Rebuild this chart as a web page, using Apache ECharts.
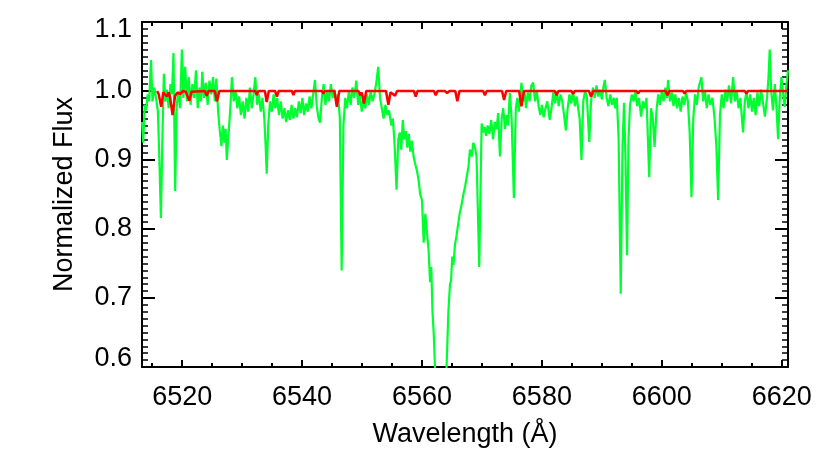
<!DOCTYPE html>
<html>
<head>
<meta charset="utf-8">
<script src="https://cdn.jsdelivr.net/npm/echarts@6/dist/echarts.min.js"></script>
<style>
html,body{margin:0;padding:0;background:#fff;}
#chart{width:830px;height:460px;}
</style>
</head>
<body>
<div id="chart"></div>
<script>
// ---- data ----
var xMajorTicks = [6520, 6540, 6560, 6580, 6600, 6620];
var xMinorTicks = [6515, 6525, 6530, 6535, 6545, 6550, 6555, 6565, 6570, 6575, 6585, 6590, 6595, 6605, 6610, 6615];
var yTickLabels = [0.6, 0.7, 0.8, 0.9, 1.0, 1.1];

// observed spectrum [wavelength, normalized flux]
var observedSpectrum = [
[6513.30,0.955],[6513.50,0.925],[6513.75,0.980],[6514.00,0.972],[6514.25,0.995],[6514.50,0.985],
[6514.80,1.045],[6515.05,0.985],[6515.35,1.005],[6515.65,0.990],[6515.95,0.970],[6516.20,0.900],
[6516.45,0.816],[6516.70,0.930],[6516.95,1.025],[6517.20,0.985],[6517.45,1.002],[6517.75,0.975],
[6518.05,1.010],[6518.30,0.995],[6518.55,1.055],[6518.83,0.855],[6519.10,0.980],[6519.35,1.000],
[6519.65,0.975],[6519.95,1.060],[6520.20,0.990],[6520.50,1.035],[6520.80,0.985],[6521.10,1.020],
[6521.40,0.980],[6521.70,1.010],[6522.00,0.990],[6522.30,1.030],[6522.60,0.975],[6522.90,1.005],
[6523.15,0.985],[6523.35,1.028],[6523.65,0.990],[6523.95,1.012],[6524.25,0.980],[6524.55,1.015],
[6524.85,0.995],[6525.15,1.020],[6525.45,0.985],[6525.70,1.018],[6526.00,0.970],[6526.25,0.945],
[6526.55,0.920],[6526.80,0.950],[6527.05,0.925],[6527.25,0.945],[6527.45,0.900],[6527.75,0.940],
[6528.00,0.970],[6528.30,1.020],[6528.60,0.985],[6528.90,1.000],[6529.20,0.975],[6529.50,0.992],
[6529.80,0.965],[6530.10,0.985],[6530.40,0.960],[6530.70,0.990],[6531.00,0.970],[6531.30,1.005],
[6531.60,0.975],[6531.90,0.995],[6532.20,1.020],[6532.50,0.980],[6532.80,0.995],[6533.10,0.970],
[6533.40,0.990],[6533.70,0.960],[6533.90,0.925],[6534.10,0.880],[6534.35,0.950],[6534.65,0.985],
[6534.95,0.970],[6535.25,0.995],[6535.55,0.975],[6535.85,0.990],[6536.15,0.965],[6536.45,0.985],
[6536.75,0.960],[6537.05,0.975],[6537.35,0.955],[6537.65,0.972],[6537.95,0.958],[6538.25,0.980],
[6538.55,0.960],[6538.85,0.975],[6539.15,0.962],[6539.45,0.985],[6539.75,0.968],[6540.05,0.990],
[6540.35,0.965],[6540.65,0.982],[6540.95,0.970],[6541.25,0.992],[6541.55,0.975],[6541.85,0.995],
[6542.15,1.016],[6542.45,0.978],[6542.75,0.960],[6543.00,0.954],[6543.30,0.990],[6543.60,1.010],
[6543.90,0.980],[6544.20,1.000],[6544.50,0.985],[6544.80,1.010],[6545.10,0.990],[6545.40,1.002],
[6545.70,0.985],[6546.00,0.995],[6546.30,0.960],[6546.60,0.740],[6546.90,0.950],[6547.20,0.990],
[6547.50,0.975],[6547.80,1.000],[6548.10,0.980],[6548.40,1.005],[6548.70,0.990],[6549.05,1.015],
[6549.35,0.980],[6549.65,0.995],[6549.95,0.970],[6550.25,0.990],[6550.55,0.975],[6550.85,0.995],
[6551.15,0.980],[6551.45,1.000],[6551.75,0.985],[6552.05,0.995],[6552.35,1.010],[6552.70,1.035],
[6553.00,0.990],[6553.30,0.975],[6553.60,0.960],[6553.90,0.980],[6554.20,0.965],[6554.50,0.972],
[6554.90,0.950],[6555.15,0.960],[6555.45,0.920],[6555.75,0.857],[6556.05,0.930],[6556.30,0.940],
[6556.55,0.915],[6556.80,0.958],[6557.05,0.930],[6557.30,0.942],[6557.55,0.918],[6557.80,0.938],
[6558.05,0.912],[6558.30,0.928],[6558.60,0.905],[6558.85,0.895],[6559.15,0.885],[6559.45,0.870],
[6559.70,0.850],[6560.00,0.842],[6560.28,0.780],[6560.55,0.822],[6560.83,0.795],[6561.10,0.770],
[6561.35,0.723],[6561.55,0.745],[6561.75,0.680],[6561.95,0.650],[6562.17,0.600],[6562.50,0.520],
[6562.90,0.470],[6563.30,0.460],[6563.70,0.500],[6564.10,0.600],[6564.40,0.680],[6564.67,0.720],
[6564.85,0.725],[6565.05,0.760],[6565.25,0.748],[6565.50,0.777],[6565.75,0.790],[6566.00,0.805],
[6566.30,0.823],[6566.60,0.835],[6566.90,0.850],[6567.20,0.862],[6567.45,0.875],[6567.75,0.890],
[6568.00,0.915],[6568.30,0.905],[6568.55,0.925],[6568.85,0.918],[6569.10,0.905],[6569.55,0.745],
[6569.95,0.953],[6570.20,0.940],[6570.45,0.948],[6570.70,0.935],[6570.95,0.950],[6571.25,0.938],
[6571.55,0.958],[6571.85,0.930],[6572.15,0.955],[6572.45,0.945],[6572.70,0.968],[6573.00,0.905],
[6573.30,0.960],[6573.55,0.975],[6573.85,0.945],[6574.10,0.965],[6574.35,0.950],[6574.65,0.997],
[6574.95,0.960],[6575.33,0.845],[6575.65,0.975],[6575.90,0.990],[6576.15,0.970],[6576.40,0.995],
[6576.60,1.012],[6576.85,0.985],[6577.10,1.000],[6577.35,0.975],[6577.65,0.998],[6577.95,0.985],
[6578.25,1.008],[6578.55,1.012],[6578.85,0.985],[6579.15,1.000],[6579.45,0.978],[6579.75,0.965],
[6580.00,0.980],[6580.30,0.962],[6580.60,0.975],[6580.90,0.985],[6581.30,0.958],[6581.60,0.975],
[6581.90,0.998],[6582.20,0.982],[6582.50,1.000],[6582.80,0.978],[6583.10,0.995],[6583.40,0.985],
[6583.70,0.965],[6584.00,0.943],[6584.30,0.975],[6584.60,0.995],[6584.90,0.982],[6585.20,1.000],
[6585.50,0.978],[6585.80,0.992],[6586.05,0.975],[6586.30,0.960],[6586.60,0.900],[6586.90,0.985],
[6587.20,1.000],[6587.50,0.992],[6587.90,0.926],[6588.20,0.985],[6588.50,1.005],[6588.80,0.990],
[6589.10,1.008],[6589.40,0.992],[6589.70,1.002],[6590.00,0.988],[6590.25,1.005],[6590.50,1.016],
[6590.80,0.990],[6591.10,0.978],[6591.40,0.995],[6591.70,0.980],[6592.00,0.990],[6592.25,0.975],
[6592.50,0.990],[6592.80,0.930],[6593.15,0.706],[6593.45,0.920],[6593.70,0.983],[6593.95,0.900],
[6594.20,0.762],[6594.45,0.930],[6594.70,0.980],[6595.00,0.995],[6595.30,0.985],[6595.60,1.000],
[6595.90,0.978],[6596.20,0.990],[6596.55,0.963],[6596.85,0.985],[6597.15,0.975],[6597.45,0.990],
[6597.90,0.875],[6598.20,0.975],[6598.50,0.960],[6598.80,0.919],[6599.10,0.970],[6599.40,0.995],
[6599.70,0.980],[6600.00,1.000],[6600.30,0.985],[6600.60,1.005],[6600.85,0.990],[6601.05,1.016],
[6601.35,0.985],[6601.65,0.998],[6601.95,0.978],[6602.25,0.995],[6602.55,0.975],[6602.85,0.990],
[6603.15,0.970],[6603.45,0.992],[6603.75,0.980],[6604.05,0.998],[6604.35,0.985],[6604.65,0.940],
[6604.95,0.846],[6605.25,0.960],[6605.55,0.995],[6605.85,0.980],[6606.15,1.005],[6606.60,1.020],
[6606.90,0.985],[6607.20,1.000],[6607.50,0.975],[6607.80,0.995],[6608.10,0.980],[6608.45,0.990],
[6608.80,0.960],[6609.10,0.920],[6609.40,0.842],[6609.70,0.965],[6610.00,0.995],[6610.30,0.975],
[6610.60,1.002],[6610.90,0.985],[6611.20,1.008],[6611.55,0.982],[6611.90,1.020],[6612.20,0.985],
[6612.50,1.000],[6612.80,0.975],[6613.10,0.990],[6613.55,0.940],[6613.85,0.985],[6614.15,1.000],
[6614.45,0.975],[6614.75,0.995],[6615.05,0.970],[6615.35,0.990],[6615.65,0.965],[6615.95,0.998],
[6616.25,0.978],[6616.55,1.002],[6616.85,0.985],[6617.20,0.963],[6617.55,0.990],[6617.80,1.020],
[6618.00,1.060],[6618.25,1.000],[6618.55,0.972],[6618.85,1.010],[6619.10,0.980],[6619.40,0.930],
[6619.65,0.985],[6619.95,1.020],[6620.25,0.995],[6620.50,0.977],[6620.80,1.010],[6621.05,1.030]
];

// telluric model [wavelength, normalized flux]
var telluricModel = [
[6515.83,1.000],[6516.10,0.995],[6516.50,0.977],[6516.85,0.998],[6517.15,0.995],[6517.45,0.992],
[6517.75,0.998],[6518.00,0.990],[6518.40,0.965],[6518.80,0.992],[6519.10,0.997],[6519.40,0.998],
[6519.75,0.996],[6520.10,1.000],[6520.60,0.999],[6520.90,0.997],[6521.20,0.986],[6521.55,0.999],
[6523.80,1.000],[6524.10,0.993],[6524.40,1.000],[6525.45,1.000],[6525.80,0.985],[6526.20,1.000],
[6532.20,1.000],[6532.45,0.994],[6532.70,1.000],[6533.80,1.000],[6534.10,0.984],[6534.45,1.000],
[6535.50,1.000],[6535.80,0.992],[6536.10,1.000],[6538.30,1.000],[6538.55,0.994],[6538.80,1.000],
[6543.30,1.000],[6543.55,0.996],[6543.80,1.000],[6545.40,1.000],[6545.80,0.977],[6546.20,1.000],
[6549.40,1.000],[6549.70,0.994],[6549.95,0.998],[6550.33,0.982],[6550.70,1.000],
[6554.00,1.000],[6554.40,0.980],[6554.75,0.998],[6555.10,0.996],[6555.50,0.993],[6555.85,1.000],
[6558.65,1.000],[6558.95,0.992],[6559.25,1.000],[6562.00,1.000],[6562.30,0.994],[6562.60,1.000],
[6563.80,1.000],[6564.20,0.997],[6564.60,1.000],[6565.55,1.000],[6565.90,0.985],[6566.25,1.000],
[6570.20,1.000],[6570.50,0.994],[6570.80,1.000],[6573.35,1.000],[6573.70,0.987],[6574.05,1.000],
[6576.20,1.000],[6576.60,0.978],[6577.00,1.000],[6582.15,1.000],[6582.45,0.994],[6582.75,1.000],
[6584.90,1.000],[6585.20,0.996],[6585.50,1.000],[6587.85,1.000],[6588.20,0.992],[6588.55,1.000],
[6595.80,1.000],[6596.05,0.996],[6596.30,1.000],[6600.65,1.000],[6600.95,0.994],[6601.25,1.000],
[6603.55,1.000],[6603.80,0.996],[6604.05,1.000],[6613.85,1.000],[6614.10,0.996],[6614.35,1.000],
[6621.05,1.000]
];

// ---- chart ----
var FONT = 'Liberation Sans';
var FS = 27;
var xMin = 6513.3, xMax = 6621.05;
var black = '#000';

function xAx(pos, ticks, len, withLabel, withLine) {
  var a = {
    type: 'value', position: pos, min: xMin, max: xMax,
    axisLine: {show: withLine, onZero: false, lineStyle: {color: black, width: 2}},
    axisTick: {show: true, inside: true, length: len, customValues: ticks, lineStyle: {color: black, width: 2}},
    axisLabel: {show: withLabel, customValues: ticks, color: black, fontFamily: FONT, fontSize: FS, margin: 17,
      formatter: function (v) { return String(Math.round(v)); }},
    splitLine: {show: false}
  };
  if (withLabel) {
    a.name = 'Wavelength (\u00C5)';
    a.nameLocation = 'middle';
    a.nameGap = 54;
    a.nameTextStyle = {color: black, fontFamily: FONT, fontSize: FS};
  }
  return a;
}
function yAx(pos, withLabel) {
  var a = {
    type: 'value', position: pos, min: yTickLabels[0], max: yTickLabels[yTickLabels.length - 1], interval: 0.1,
    axisLine: {show: true, onZero: false, lineStyle: {color: black, width: 2}},
    axisTick: {show: true, inside: true, length: 13, lineStyle: {color: black, width: 2}},
    minorTick: {show: true, splitNumber: 10, length: 6, lineStyle: {color: black, width: 1.5}},
    axisLabel: {show: withLabel, color: black, fontFamily: FONT, fontSize: FS, margin: 10, lineHeight: 16,
      formatter: function (v) { return v.toFixed(1); },
      verticalAlignMinLabel: 'bottom', verticalAlignMaxLabel: 'top'},
    splitLine: {show: false}
  };
  if (withLabel) {
    a.name = 'Normalized Flux';
    a.nameLocation = 'middle';
    a.nameGap = 64;
    a.nameTextStyle = {color: black, fontFamily: FONT, fontSize: FS};
  }
  return a;
}

var chart = echarts.init(document.getElementById('chart'), null, {renderer: 'canvas'});
chart.setOption({
  animation: false,
  backgroundColor: '#fff',
  grid: {left: 142, right: 42, top: 22, bottom: 93, containLabel: false},
  xAxis: [
    xAx('bottom', xMajorTicks, 7, true, true),
    xAx('bottom', xMinorTicks, 4, false, false),
    xAx('top', xMajorTicks, 7, false, true),
    xAx('top', xMinorTicks, 4, false, false)
  ],
  yAxis: [yAx('left', true), yAx('right', false)],
  series: [
    {type: 'line', name: 'observed', data: observedSpectrum, xAxisIndex: 0, yAxisIndex: 0,
     showSymbol: false, clip: true, lineStyle: {color: '#00ff30', width: 2.2}, z: 2},
    {type: 'line', name: 'model', data: telluricModel, xAxisIndex: 0, yAxisIndex: 0,
     showSymbol: false, clip: true, lineStyle: {color: '#ff0000', width: 2.5}, z: 3}
  ]
});
</script>
</body>
</html>
